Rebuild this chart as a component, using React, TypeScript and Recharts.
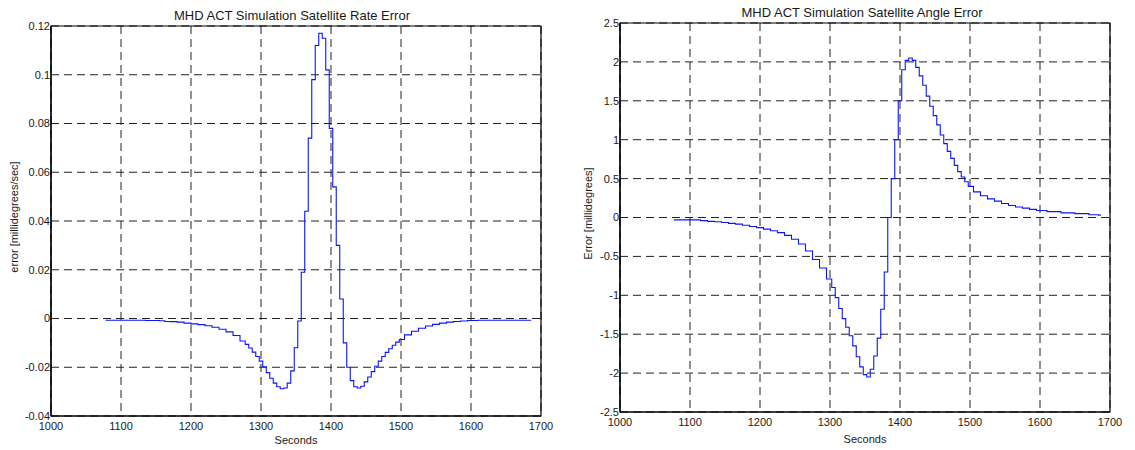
import React from 'react';
import { LineChart, Line, XAxis, YAxis, CartesianGrid, ReferenceArea } from 'recharts';

const FONT = '"Liberation Sans", Arial, Helvetica, sans-serif';
const TEXT = '#1a1a1a';
const GRID = '#222222';
const LINE = '#0a14ff';

// X axis (seconds), shared by both panels
const xTicks = [1000, 1100, 1200, 1300, 1400, 1500, 1600, 1700];
const xTickLabels = ['1000', '1100', '1200', '1300', '1400', '1500', '1600', '1700'];

// Left panel: satellite rate error
const rateTicks = [-0.04, -0.02, 0, 0.02, 0.04, 0.06, 0.08, 0.1, 0.12];
const rateTickLabels = ['-0.04', '-0.02', '0', '0.02', '0.04', '0.06', '0.08', '0.1', '0.12'];
const rateTime = [
  1078, 1090, 1100, 1110, 1120, 1130, 1140, 1150, 1160, 1165,
  1175, 1185, 1195, 1205, 1215, 1225, 1235, 1245, 1255, 1265,
  1275, 1280, 1285, 1290, 1295, 1300, 1305, 1310, 1315, 1320,
  1325, 1330, 1335, 1340, 1345, 1350, 1355, 1360, 1365, 1370,
  1375, 1380, 1385, 1390, 1395, 1400, 1405, 1410, 1415, 1420,
  1425, 1430, 1435, 1440, 1445, 1450, 1455, 1460, 1465, 1470,
  1475, 1480, 1485, 1490, 1495, 1500, 1510, 1520, 1530, 1540,
  1550, 1560, 1570, 1580, 1590, 1600, 1620, 1640, 1660, 1686,
];
const rateError = [
  -0.0007, -0.0007, -0.0007, -0.0007, -0.0007, -0.0007, -0.0008, -0.0008, -0.0009, -0.0012,
  -0.0013, -0.0015, -0.0019, -0.0022, -0.0025, -0.003, -0.0036, -0.0044, -0.0055, -0.007,
  -0.0092, -0.0106, -0.0121, -0.0138, -0.0156, -0.0175, -0.0198, -0.0222, -0.0245, -0.0265,
  -0.028, -0.0288, -0.0285, -0.0265, -0.0215, -0.012, -0.001, 0.019, 0.044, 0.074,
  0.098, 0.112, 0.117, 0.115, 0.102, 0.078, 0.054, 0.03, 0.008, -0.01,
  -0.02, -0.0255, -0.028, -0.0285, -0.0278, -0.026, -0.024, -0.0218, -0.0196, -0.0175,
  -0.0156, -0.0139, -0.0124, -0.011, -0.0097, -0.0086, -0.0067, -0.0052, -0.004, -0.0031,
  -0.0024, -0.0019, -0.0015, -0.0012, -0.001, -0.0008, -0.0007, -0.0007, -0.0007, -0.0007,
];

// Right panel: satellite angle error
const angleTicks = [-2.5, -2, -1.5, -1, -0.5, 0, 0.5, 1, 1.5, 2, 2.5];
const angleTickLabels = ['-2.5', '-2', '-1.5', '-1', '-0.5', '0', '0.5', '1', '1.5', '2', '2.5'];
const angleTime = [
  1077, 1090, 1100, 1110, 1120, 1130, 1140, 1150, 1160, 1170,
  1180, 1190, 1200, 1210, 1220, 1230, 1240, 1250, 1260, 1270,
  1280, 1290, 1300, 1305, 1310, 1315, 1320, 1325, 1330, 1335,
  1340, 1345, 1350, 1355, 1360, 1365, 1370, 1375, 1380, 1385,
  1390, 1395, 1400, 1405, 1410, 1415, 1420, 1425, 1430, 1435,
  1440, 1445, 1450, 1455, 1460, 1465, 1470, 1475, 1480, 1485,
  1490, 1495, 1500, 1510, 1520, 1530, 1540, 1550, 1560, 1570,
  1580, 1590, 1600, 1620, 1640, 1660, 1680, 1687,
];
const angleError = [
  -0.03, -0.03, -0.03, -0.03, -0.04, -0.05, -0.055, -0.065, -0.075, -0.085,
  -0.1, -0.115, -0.13, -0.15, -0.17, -0.195, -0.23, -0.28, -0.34, -0.43,
  -0.54, -0.65, -0.79, -0.9, -1.03, -1.17, -1.3, -1.41, -1.52, -1.65,
  -1.79, -1.92, -2.02, -2.05, -1.95, -1.78, -1.55, -1.18, -0.7, 0.0,
  0.5, 1.0, 1.5, 1.9, 2.02, 2.05, 2.02, 1.93, 1.82, 1.7,
  1.56, 1.43, 1.31, 1.19, 1.06, 0.95, 0.85, 0.76, 0.67, 0.59,
  0.52, 0.46, 0.4, 0.33, 0.28, 0.24, 0.21, 0.18, 0.155, 0.135,
  0.12, 0.105, 0.09, 0.075, 0.06, 0.05, 0.035, 0.03,
];

const rateData = rateTime.map((t, i) => ({ t, v: rateError[i] }));
const angleData = angleTime.map((t, i) => ({ t, v: angleError[i] }));

function YLabel(props: any) {
  const { viewBox, text, cx } = props;
  const cy = viewBox.y + viewBox.height / 2 - 4;
  return (
    <text
      x={cx}
      y={cy}
      transform={`rotate(-90, ${cx}, ${cy})`}
      textAnchor="middle"
      dominantBaseline="central"
      fontFamily={FONT}
      fontSize={11}
      fill={TEXT}
    >
      {text}
    </text>
  );
}

const tickStyle = { fontFamily: FONT, fontSize: 11, fill: TEXT };

function Panel(props: {
  data: { t: number; v: number }[];
  yTicks: number[];
  yLabels: string[];
  yDomain: [number, number];
  width: number;
  margin: { top: number; right: number; bottom: number; left: number };
  yAxisWidth: number;
  xAxisHeight: number;
  yLabelText: string;
  yLabelX: number;
  secondsOffset: number;
}) {
  const { data, yTicks, yLabels, yDomain, width, margin, yAxisWidth, xAxisHeight } = props;
  return (
    <LineChart width={width} height={450} data={data} margin={margin}>
      <CartesianGrid stroke={GRID} strokeDasharray="8 5" strokeWidth={1} />
      <XAxis
        dataKey="t"
        type="number"
        domain={[1000, 1700]}
        ticks={xTicks}
        tickFormatter={(v: number) => xTickLabels[xTicks.indexOf(v)]}
        allowDataOverflow
        height={xAxisHeight}
        tickLine={false}
        tickSize={0}
        tickMargin={6}
        axisLine={{ stroke: '#000', strokeWidth: 1.2 }}
        tick={tickStyle}
        interval={0}
        label={{
          value: 'Seconds',
          position: 'insideBottom',
          offset: props.secondsOffset,
          style: { fontFamily: FONT, fontSize: 11, fill: TEXT },
        }}
      />
      <YAxis
        type="number"
        domain={yDomain}
        ticks={yTicks}
        tickFormatter={(v: number) => yLabels[yTicks.indexOf(v)]}
        allowDataOverflow
        width={yAxisWidth}
        tickLine={false}
        tickSize={0}
        tickMargin={1}
        axisLine={{ stroke: '#000', strokeWidth: 1.2 }}
        tick={tickStyle}
        interval={0}
        label={<YLabel text={props.yLabelText} cx={props.yLabelX} />}
      />
      <ReferenceArea
        x1={1000}
        x2={1700}
        y1={yDomain[0]}
        y2={yDomain[1]}
        fill="none"
        fillOpacity={0}
        stroke="#000"
        strokeWidth={1.2}
        ifOverflow="visible"
      />
      <Line
        type="step"
        dataKey="v"
        stroke={LINE}
        strokeWidth={1.1}
        dot={false}
        activeDot={false}
        isAnimationActive={false}
      />
    </LineChart>
  );
}

const titleStyle: React.CSSProperties = {
  position: 'absolute',
  fontFamily: FONT,
  fontSize: 13,
  color: TEXT,
  whiteSpace: 'nowrap',
  transform: 'translate(-50%, -50%)',
  lineHeight: 1,
};

export default function App() {
  return (
    <div
      style={{
        position: 'absolute',
        left: 0,
        top: 0,
        width: 1135,
        height: 450,
        background: '#fff',
        overflow: 'hidden',
      }}
    >
      <div style={{ position: 'absolute', left: 0, top: 0 }}>
        <Panel
          data={rateData}
          yTicks={rateTicks}
          yLabels={rateTickLabels}
          yDomain={[-0.04, 0.12]}
          width={560}
          margin={{ top: 26, right: 19, bottom: 0, left: 0 }}
          yAxisWidth={51}
          xAxisHeight={34}
          yLabelText="error [millidegrees/sec]"
          yLabelX={14}
          secondsOffset={6}
        />
      </div>
      <div style={{ position: 'absolute', left: 570, top: 0 }}>
        <Panel
          data={angleData}
          yTicks={angleTicks}
          yLabels={angleTickLabels}
          yDomain={[-2.5, 2.5]}
          width={565}
          margin={{ top: 23, right: 25, bottom: 0, left: 0 }}
          yAxisWidth={50}
          xAxisHeight={38}
          yLabelText="Error [millidegrees]"
          yLabelX={18}
          secondsOffset={7}
        />
      </div>
      <div style={{ ...titleStyle, left: 292, top: 15 }}>MHD ACT Simulation Satellite Rate Error</div>
      <div style={{ ...titleStyle, left: 862, top: 12 }}>MHD ACT Simulation Satellite Angle Error</div>
    </div>
  );
}
